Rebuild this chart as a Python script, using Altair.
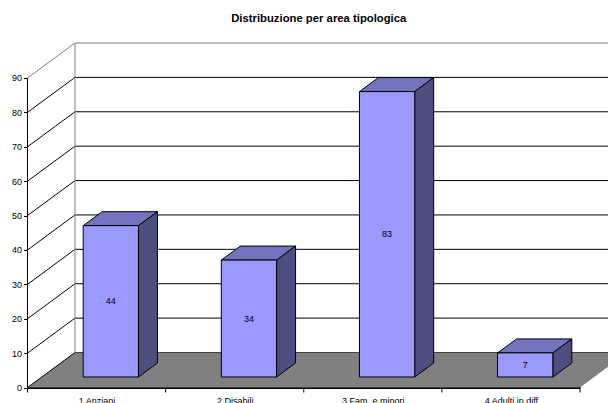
import altair as alt
import pandas as pd

TITLE = "Distribuzione per area tipologica"
CATEGORIES = ["1 Anziani", "2 Disabili", "3 Fam. e minori", "4 Adulti in diff"]
VALUES = [44, 34, 83, 7]
Y_TICKS = [0, 10, 20, 30, 40, 50, 60, 70, 80, 90]

FONT = "Liberation Sans"
FRONT, TOP, SIDE = "#9999FF", "#7373BF", "#4D4D80"
FLOOR = "#808080"

# oblique projection: full depth of the chart box in data units
DEPTH_X = 47.5 / 138.125
DEPTH_Y = 35 / 3.44
BAR_Z0, BAR_Z1 = 0.3, 0.7
BAR_HALF = 0.2
N = len(CATEGORIES)
INNER = Y_TICKS[:-1]
TOP_TICK = Y_TICKS[-1]

x_scale = alt.Scale(domain=[0, N], nice=False, zero=False)
y_scale = alt.Scale(domain=[0, TOP_TICK + DEPTH_Y], nice=False, zero=False)

label_expr = "[" + ",".join(f"'{c}'" for c in CATEGORIES) + "][floor(datum.value)]"
x_axis = alt.Axis(values=[i + 0.5 for i in range(N)], labelExpr=label_expr, grid=False,
                  tickSize=0, labelFont=FONT, labelFontSize=9, labelColor="black",
                  labelPadding=9, domainColor="black", domainWidth=2, labelAngle=0,
                  labelOverlap=False, labelFlush=False)
y_axis = alt.Axis(values=Y_TICKS, grid=False, domain=False, tickColor="black", tickSize=4,
                  labelFont=FONT, labelFontSize=9, labelColor="black", labelPadding=2,
                  format="d", labelOverlap=False, labelFlush=False)


def X(field):
    return alt.X(field, type="quantitative", scale=x_scale, title=None, axis=x_axis)


def Y(field):
    return alt.Y(field, type="quantitative", scale=y_scale, title=None, axis=y_axis)


# walls
back_lines = pd.DataFrame({"x": [DEPTH_X] * len(INNER), "x2": [N + DEPTH_X] * len(INNER),
                           "y": [v + DEPTH_Y for v in INNER]})
back_top = pd.DataFrame({"x": [DEPTH_X], "x2": [N + DEPTH_X], "y": [TOP_TICK + DEPTH_Y]})
side_lines = pd.DataFrame([
    {"v": v, "x": z * DEPTH_X, "y": v + z * DEPTH_Y} for v in INNER for z in (0, 1)
])
side_top = pd.DataFrame([{"x": z * DEPTH_X, "y": TOP_TICK + z * DEPTH_Y} for z in (0, 1)])
back_vert = pd.DataFrame({"x": [DEPTH_X], "y": [DEPTH_Y], "y2": [TOP_TICK + DEPTH_Y]})
floor = pd.DataFrame({"x": [0, DEPTH_X], "x2": [N, N + DEPTH_X], "y": [0, DEPTH_Y]})
left_axis = pd.DataFrame({"x": [0], "y": [0], "y2": [TOP_TICK]})
cat_ticks = pd.DataFrame({"x": list(range(N + 1)), "y": [0] * (N + 1), "y2": [-1.45] * (N + 1)})

# bars
front, side, top, labels = [], [], [], []
for i, (c, v) in enumerate(zip(CATEGORIES, VALUES)):
    mid = i + 0.5
    fx0 = mid - BAR_HALF + BAR_Z0 * DEPTH_X
    fx1 = mid + BAR_HALF + BAR_Z0 * DEPTH_X
    bx0 = mid - BAR_HALF + BAR_Z1 * DEPTH_X
    bx1 = mid + BAR_HALF + BAR_Z1 * DEPTH_X
    fy0 = BAR_Z0 * DEPTH_Y
    by0 = BAR_Z1 * DEPTH_Y
    front.append({"c": c, "x": fx0, "x2": fx1, "y": fy0, "y2": fy0 + v})
    side += [{"c": c, "x": fx1, "y": fy0 + v, "y2": fy0},
             {"c": c, "x": bx1, "y": by0 + v, "y2": by0}]
    top += [{"c": c, "y": fy0 + v, "x": fx0, "x2": fx1},
            {"c": c, "y": by0 + v, "x": bx0, "x2": bx1}]
    labels.append({"c": c, "x": (fx0 + fx1) / 2, "y": fy0 + v / 2, "v": v})

base_lines = alt.Chart(back_lines).mark_rule(color="black", strokeWidth=1).encode(
    x=X("x"), x2="x2", y=Y("y"))
back_top_layer = alt.Chart(back_top).mark_rule(color=FLOOR, strokeWidth=1).encode(
    x=X("x"), x2="x2", y=Y("y"))
side_top_layer = alt.Chart(side_top).mark_line(color=FLOOR, strokeWidth=1).encode(
    x=X("x"), y=Y("y"))
floor_layer = alt.Chart(floor).mark_area(orient="horizontal", color=FLOOR, opacity=1).encode(
    y=Y("y"), x=X("x"), x2="x2")
side_layer = alt.Chart(side_lines).mark_line(color="black", strokeWidth=1).encode(
    x=X("x"), y=Y("y"), detail="v:N")
back_vert_layer = alt.Chart(back_vert).mark_rule(color=FLOOR, strokeWidth=1).encode(
    x=X("x"), y=Y("y"), y2="y2")
left_layer = alt.Chart(left_axis).mark_rule(color="black", strokeWidth=1).encode(
    x=X("x"), y=Y("y"), y2="y2")
tick_layer = alt.Chart(cat_ticks).mark_rule(color="black", strokeWidth=1).encode(
    x=X("x"), y=Y("y"), y2="y2")

top_layer = alt.Chart(pd.DataFrame(top)).mark_area(
    orient="horizontal", fill=TOP, stroke="black", strokeWidth=1, opacity=1).encode(
    y=Y("y"), x=X("x"), x2="x2", detail="c:N")
bar_side = alt.Chart(pd.DataFrame(side)).mark_area(
    orient="vertical", fill=SIDE, stroke="black", strokeWidth=1, opacity=1).encode(
    x=X("x"), y=Y("y"), y2="y2", detail="c:N")
bar_front = alt.Chart(pd.DataFrame(front)).mark_rect(
    fill=FRONT, stroke="black", strokeWidth=1).encode(
    x=X("x"), x2="x2", y=Y("y"), y2="y2")
bar_text = alt.Chart(pd.DataFrame(labels)).mark_text(
    font=FONT, fontSize=9, color="black", align="center", baseline="middle").encode(
    x=X("x"), y=Y("y"), text="v:Q")

chart = alt.layer(
    base_lines, back_top_layer, side_top_layer, floor_layer, side_layer, back_vert_layer,
    left_layer, tick_layer, top_layer, bar_side, bar_front, bar_text,
).properties(
    width=552.5,
    height=344.5,
    title=alt.TitleParams(TITLE, font=FONT, fontSize=11.3, fontWeight="bold", color="black",
                          anchor="middle", dx=15, offset=17),
    autosize=alt.AutoSizeParams(type="none"),
    padding={"left": 19.5, "top": 35, "right": 28, "bottom": 15.5},
    background="white",
).configure_view(stroke=None)

chart.save("out.html", embed_options={"renderer": "svg", "actions": False})
